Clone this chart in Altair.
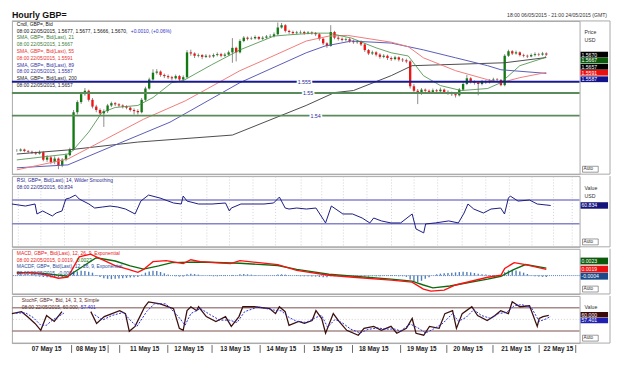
import altair as alt
import pandas as pd

FONT = "Liberation Sans"
W = 578
LF = 5.0  # legend font size

# ---------------- time axis (hour index of the hourly bars) ----------------
tick_h = [3, 15, 27, 40, 52, 64, 75, 88, 101, 113, 125, 137, 150, 161, 172, 184, 197, 209, 221, 234, 246, 258, 270, 281, 291]
tick_lab = ["22:00", "10:00", "22:00", "10:00", "20:00", "08:00", "20:00", "10:00", "22:00", "10:00", "22:00", "10:00",
            "22:00", "10:00", "20:00", "08:00", "20:00", "10:00", "22:00", "10:00", "22:00", "10:00", "22:00", "10:00", "20:00"]
date_h = [18, 41, 69, 92, 116, 140, 164, 188, 213, 237, 262, 284]
date_lab = ["07 May 15", "08 May 15", "11 May 15", "12 May 15", "13 May 15", "14 May 15", "15 May 15",
            "18 May 15", "19 May 15", "20 May 15", "21 May 15", "22 May 15"]
sep_h = [31, 50, 56, 81, 104, 129, 152, 177, 202, 226, 250, 274, 293]

# ---------------- candles (2-hour bars) ----------------
bar_h = list(range(0, 282, 2))
closes = [1.5245, 1.5250, 1.5243, 1.5240, 1.5236, 1.5232, 1.5238, 1.5205, 1.5215, 1.5195,
          1.5210, 1.5180, 1.5205, 1.5225, 1.5250, 1.5415, 1.5460, 1.5495, 1.5510, 1.5470,
          1.5440, 1.5425, 1.5410, 1.5420, 1.5445, 1.5455, 1.5450, 1.5445, 1.5440, 1.5435,
          1.5425, 1.5420, 1.5415, 1.5470, 1.5520, 1.5560, 1.5590, 1.5595, 1.5580, 1.5575,
          1.5570, 1.5565, 1.5575, 1.5560, 1.5570, 1.5680, 1.5675, 1.5665, 1.5668, 1.5660,
          1.5665, 1.5662, 1.5668, 1.5672, 1.5665, 1.5670, 1.5680, 1.5700, 1.5680, 1.5730,
          1.5745, 1.5740, 1.5742, 1.5748, 1.5740, 1.5745, 1.5750, 1.5752, 1.5760, 1.5790,
          1.5800, 1.5775, 1.5770, 1.5765, 1.5768, 1.5770, 1.5765, 1.5768, 1.5765, 1.5760,
          1.5740, 1.5720, 1.5708, 1.5770, 1.5745, 1.5740, 1.5735, 1.5738, 1.5730, 1.5725,
          1.5728, 1.5715, 1.5690, 1.5675, 1.5680, 1.5670, 1.5660, 1.5665, 1.5655, 1.5650,
          1.5658, 1.5648, 1.5645, 1.5640, 1.5530, 1.5510, 1.5500, 1.5515, 1.5510, 1.5505,
          1.5512, 1.5508, 1.5515, 1.5505, 1.5500, 1.5495, 1.5490, 1.5515, 1.5540, 1.5565,
          1.5550, 1.5545, 1.5540, 1.5550, 1.5548, 1.5555, 1.5560, 1.5558, 1.5535, 1.5665,
          1.5685, 1.5675, 1.5680, 1.5668, 1.5665, 1.5662, 1.5668, 1.5672, 1.5670, 1.5675,
          1.5670]
highs = [1.5252, 1.5255, 1.5254, 1.5248, 1.5245, 1.5241, 1.5246, 1.5242, 1.5225, 1.5222,
         1.5220, 1.5215, 1.5212, 1.5232, 1.5258, 1.5425, 1.5468, 1.5505, 1.5522, 1.5515,
         1.5478, 1.5448, 1.5432, 1.5428, 1.5452, 1.5462, 1.5460, 1.5455, 1.5450, 1.5446,
         1.5440, 1.5432, 1.5428, 1.5478, 1.5528, 1.5568, 1.5605, 1.5606, 1.5600, 1.5586,
         1.5582, 1.5576, 1.5582, 1.5580, 1.5578, 1.5690, 1.5692, 1.5680, 1.5675, 1.5672,
         1.5672, 1.5670, 1.5675, 1.5680, 1.5678, 1.5678, 1.5688, 1.5743, 1.5705, 1.5738,
         1.5752, 1.5750, 1.5750, 1.5755, 1.5752, 1.5752, 1.5757, 1.5760, 1.5768, 1.5812,
         1.5810, 1.5805, 1.5780, 1.5776, 1.5775, 1.5777, 1.5775, 1.5774, 1.5773, 1.5770,
         1.5765, 1.5745, 1.5725, 1.5800, 1.5775, 1.5752, 1.5746, 1.5745, 1.5744, 1.5736,
         1.5735, 1.5733, 1.5720, 1.5695, 1.5688, 1.5685, 1.5676, 1.5672, 1.5670, 1.5662,
         1.5665, 1.5662, 1.5655, 1.5652, 1.5645, 1.5540, 1.5518, 1.5522, 1.5520, 1.5516,
         1.5520, 1.5518, 1.5524, 1.5520, 1.5512, 1.5506, 1.5500, 1.5522, 1.5548, 1.5580,
         1.5570, 1.5556, 1.5552, 1.5558, 1.5557, 1.5562, 1.5568, 1.5566, 1.5562, 1.5672,
         1.5692, 1.5690, 1.5688, 1.5684, 1.5674, 1.5670, 1.5675, 1.5680, 1.5678, 1.5682,
         1.5680]
lows = [1.5240, 1.5241, 1.5238, 1.5235, 1.5230, 1.5226, 1.5228, 1.5198, 1.5195, 1.5185,
        1.5185, 1.5163, 1.5172, 1.5198, 1.5220, 1.5245, 1.5405, 1.5452, 1.5488, 1.5462,
        1.5432, 1.5415, 1.5400, 1.5350, 1.5412, 1.5438, 1.5442, 1.5438, 1.5432, 1.5428,
        1.5418, 1.5405, 1.5405, 1.5410, 1.5465, 1.5515, 1.5555, 1.5582, 1.5572, 1.5566,
        1.5562, 1.5556, 1.5560, 1.5550, 1.5555, 1.5565, 1.5665, 1.5655, 1.5658, 1.5650,
        1.5655, 1.5655, 1.5656, 1.5662, 1.5658, 1.5660, 1.5665, 1.5634, 1.5640, 1.5675,
        1.5725, 1.5733, 1.5735, 1.5737, 1.5734, 1.5735, 1.5740, 1.5745, 1.5746, 1.5755,
        1.5785, 1.5768, 1.5762, 1.5758, 1.5760, 1.5762, 1.5758, 1.5760, 1.5758, 1.5752,
        1.5732, 1.5712, 1.5700, 1.5705, 1.5738, 1.5732, 1.5728, 1.5728, 1.5722, 1.5718,
        1.5718, 1.5708, 1.5682, 1.5668, 1.5668, 1.5662, 1.5652, 1.5654, 1.5646, 1.5642,
        1.5645, 1.5640, 1.5637, 1.5632, 1.5520, 1.5500, 1.5451, 1.5492, 1.5502, 1.5497,
        1.5500, 1.5500, 1.5502, 1.5497, 1.5492, 1.5487, 1.5480, 1.5485, 1.5510, 1.5535,
        1.5542, 1.5537, 1.5490, 1.5534, 1.5540, 1.5542, 1.5550, 1.5550, 1.5530, 1.5530,
        1.5660, 1.5668, 1.5670, 1.5662, 1.5658, 1.5655, 1.5658, 1.5662, 1.5663, 1.5665,
        1.5666]

# ---------------- moving averages ----------------
sma21_h = [0, 27, 29, 38, 45, 52, 64, 72, 82, 88, 103, 118, 136, 143, 157, 165, 177, 190, 198, 207, 215, 224, 235, 249, 256, 266, 279, 280]
sma21_v = [1.5204, 1.5230, 1.5240, 1.5327, 1.5414, 1.5436, 1.5445, 1.5480, 1.5546, 1.5555, 1.5625, 1.5691, 1.5752, 1.5757,
           1.5765, 1.5765, 1.5743, 1.5700, 1.5678, 1.5664, 1.5577, 1.5533, 1.5511, 1.5520, 1.5546, 1.5621, 1.5656, 1.5667]
sma55_h = [0, 27, 47, 67, 89, 101, 118, 131, 153, 165, 175, 198, 207, 215, 232, 249, 256, 266, 280]
sma55_v = [1.5160, 1.5208, 1.5296, 1.5384, 1.5465, 1.5520, 1.5599, 1.5647, 1.5730, 1.5752, 1.5755, 1.5725, 1.5705, 1.5656,
           1.5599, 1.5559, 1.5546, 1.5568, 1.5591]
sma89_h = [0, 27, 52, 81, 118, 153, 163, 177, 198, 215, 232, 249, 256, 280]
sma89_v = [1.5169, 1.5182, 1.5270, 1.5371, 1.5546, 1.5678, 1.5708, 1.5730, 1.5721, 1.5691, 1.5656, 1.5621, 1.5603, 1.5587]
sma200_h = [0, 27, 64, 114, 153, 168, 178, 198, 209, 258, 280]
sma200_v = [1.5230, 1.5248, 1.5283, 1.5314, 1.5445, 1.5502, 1.5511, 1.5577, 1.5621, 1.5634, 1.5657]

price_ticks = [1.52, 1.525, 1.53, 1.535, 1.54, 1.545, 1.55, 1.555, 1.56, 1.565, 1.57]
levels = [1.555, 1.55, 1.54]
level_col = ["#1a1a90", "#5b8a5b", "#5b8a5b"]
level_lab = ["1.555", "1.55", "1.54"]
level_lab_h = [152, 154, 158]

price_box_lab = ["1.5670", "1.5667", "1.5657", "1.5591", "1.5587"]
price_box_pos = [1.5670, 1.5644, 1.5616, 1.5590, 1.5561]
price_box_col = ["#000000", "#0b5a0b", "#000000", "#e81010", "#12128a"]

# ---------------- RSI ----------------
rsi_h = [0, 7, 12, 13, 16, 18, 21, 23, 26, 28, 30, 33, 35, 40, 43, 47, 51, 55, 59, 64, 67, 71, 77, 84, 88, 89, 91, 97, 104, 111,
         113, 114, 119, 131, 136, 139, 142, 144, 148, 153, 158, 163, 166, 172, 177, 182, 186, 188, 192, 197, 202, 208, 210, 214,
         215, 220, 227, 232, 235, 237, 240, 245, 249, 254, 256, 258, 259, 263, 269, 273, 280]
rsi_v = [63.3, 59.9, 63.3, 46.4, 51.5, 48.1, 43.0, 48.1, 51.5, 71.7, 73.4, 78.5, 71.7, 63.3, 56.5, 58.2, 59.9, 58.2, 54.8, 46.4,
         68.3, 78.5, 73.4, 65.0, 63.3, 76.8, 68.3, 63.3, 63.3, 65.0, 51.5, 56.5, 63.3, 63.3, 65.0, 75.1, 56.5, 54.8, 56.5, 54.8,
         56.5, 31.2, 59.9, 46.4, 46.4, 39.6, 31.2, 39.6, 34.6, 31.2, 31.2, 46.4, 21.0, 14.3, 29.5, 31.2, 34.6, 31.2, 48.1, 63.3,
         54.8, 48.1, 54.8, 56.5, 46.4, 73.4, 76.8, 68.3, 70.0, 63.3, 60.8]
rsi_levels = [70, 30]

# ---------------- MACD ----------------
macd_h = [0, 7, 14, 22, 27, 29, 33, 39, 44, 52, 59, 64, 67, 72, 79, 88, 92, 97, 113, 118, 128, 138, 148, 165, 178, 198, 209,
          215, 219, 226, 232, 249, 256, 258, 263, 269, 280]
macd_v = [0.0007, 0.0010, 0.0004, -0.0008, -0.0005, 0.0016, 0.0058, 0.0066, 0.0052, 0.0031, 0.0019, 0.0010, 0.0019, 0.0043,
          0.0046, 0.0037, 0.0049, 0.0043, 0.0037, 0.0046, 0.0040, 0.0034, 0.0016, 0.0001, -0.0005, -0.0014, -0.0020, -0.0042,
          -0.0048, -0.0045, -0.0029, -0.0005, 0.0001, 0.0022, 0.0040, 0.0034, 0.0019]
sig_h = [0, 14, 27, 34, 42, 52, 60, 67, 75, 82, 97, 118, 138, 148, 165, 198, 209, 215, 220, 229, 249, 256, 263, 269, 280]
sig_v = [0.0010, 0.0007, -0.0002, 0.0025, 0.0055, 0.0045, 0.0030, 0.0020, 0.0030, 0.0040, 0.0042, 0.0038, 0.0031, 0.0019,
         0.0004, -0.0011, -0.0017, -0.0029, -0.0038, -0.0032, -0.0011, -0.0002, 0.0019, 0.0034, 0.0023]
hist_v = [0.0001, 0.0002, 0.0001, 0.0000, -0.0001, -0.0002, -0.0003,
          -0.0004, -0.0005, -0.0006, -0.0006, -0.0005, -0.0004, -0.0003, 0.0000,
          0.0008, 0.0013, 0.0015, 0.0014, 0.0012, 0.0009,
          0.0002, -0.0004, -0.0008, -0.0010, -0.0011, -0.0010, -0.0009, -0.0008, -0.0007, -0.0006, -0.0005, -0.0004,
          0.0003, 0.0009, 0.0013, 0.0015, 0.0014, 0.0011, 0.0007,
          0.0003, 0.0000, -0.0002, -0.0003, -0.0003,
          0.0004, 0.0006, 0.0005, 0.0003, 0.0001, 0.0000,
          -0.0001, -0.0002, -0.0002, -0.0001, -0.0001, 0.0000,
          0.0002, 0.0001, 0.0004, 0.0005, 0.0004, 0.0003,
          0.0002, 0.0001, 0.0000, -0.0001, 0.0000, 0.0001,
          0.0003, 0.0004, 0.0003, 0.0001, 0.0000, -0.0001, -0.0002,
          -0.0002, -0.0002, -0.0003, -0.0003, -0.0004, -0.0005, -0.0005,
          -0.0002, -0.0002, -0.0002, -0.0002, -0.0001, -0.0001, -0.0001,
          -0.0001, -0.0002, -0.0003, -0.0003, -0.0002, -0.0002, -0.0002,
          -0.0001, -0.0001, -0.0001, -0.0001, -0.0002, -0.0002,
          -0.0004, -0.0012, -0.0018, -0.0020, -0.0016, -0.0010,
          -0.0005, 0.0000, 0.0004, 0.0006, 0.0007, 0.0008, 0.0009,
          0.0010, 0.0011, 0.0012, 0.0011, 0.0010, 0.0008, 0.0006,
          0.0004, 0.0003, 0.0002, 0.0002, 0.0001, 0.0000,
          0.0010, 0.0016, 0.0018, 0.0016, 0.0013, 0.0009, 0.0005,
          0.0001, -0.0002, -0.0003, -0.0004, -0.0004]
macd_box_lab = ["0.0023", "0.0019", "-0.0004"]
macd_box_pos = [0.0045, 0.0020, -0.0002]
macd_box_col = ["#0b5a0b", "#e81010", "#1a4a8a"]

# ---------------- Stochastic ----------------
stk_h = [0, 5, 8, 12, 15, 18, 22, 26,
         41, 44, 48, 56, 59, 61, 64, 69, 71, 77, 84, 87, 89, 91, 93, 96, 97, 101, 106, 111, 114, 118, 120, 126, 134, 137,
         139, 142, 144, 149, 152, 156, 158, 161, 163, 167, 170, 174, 180, 183, 188, 192, 197, 200, 205, 208, 210, 214, 217,
         222, 225, 229, 231, 234, 239, 242, 247, 251, 254, 258, 260, 264, 269, 273, 274, 276, 279]
stk_v = [64.8, 69.9, 57.2, 39.5, 21.8, 59.7, 44.6, 69.9,
         69.9, 39.5, 57.2, 72.4, 64.8, 19.2, 31.9, 82.5, 95.2, 90.1, 77.5, 26.8, 21.8, 72.4, 82.5, 72.4, 82.5, 57.2, 44.6,
         57.2, 31.9, 57.2, 82.5, 82.5, 77.5, 64.8, 82.5, 69.9, 34.4, 44.6, 39.5, 47.1, 72.4, 52.2, 14.2, 64.8, 44.6, 21.8,
         9.1, 26.8, 31.9, 21.8, 31.9, 14.2, 26.8, 52.2, 14.2, 9.1, 31.9, 26.8, 64.8, 72.4, 26.8, 64.8, 82.5, 59.7, 47.1, 59.7,
         72.4, 64.8, 95.2, 82.5, 85.1, 31.9, 52.2, 57.2, 60.0]
stk_seg = [0] * 8 + [1] * 67
std_h = [2, 7, 11, 15, 18, 21, 25, 27,
         43, 47, 52, 58, 62, 65, 70, 74, 80, 86, 90, 93, 98, 103, 108, 113, 117, 121, 128, 136, 140, 144, 148, 153, 158,
         161, 164, 168, 172, 176, 181, 185, 190, 194, 199, 202, 207, 211, 215, 219, 224, 229, 232, 236, 240, 244, 249, 253,
         257, 261, 265, 270, 274, 277, 280]
std_v = [66, 67, 55, 35, 35, 48, 60, 66,
         62, 48, 60, 68, 45, 32, 70, 90, 90, 60, 35, 65, 78, 62, 48, 48, 42, 70, 82, 74, 72, 55, 45, 42, 55, 60, 30, 50, 40,
         25, 15, 24, 28, 25, 25, 20, 38, 28, 15, 25, 40, 65, 45, 55, 75, 60, 52, 65, 68, 85, 88, 80, 45, 50, 57.4]
std_seg = [0] * 8 + [1] * 55
stoch_levels = [80, 20]
stoch_grid = [50]
stoch_box_lab = ["60.000", "57.401"]
stoch_box_pos = [62, 47]
stoch_box_col = ["#3a0a0a", "#2020b0"]

# ================= building the chart =================
XS = alt.Scale(domain=[0, 295], nice=False, zero=False)
LABEL_EXPR = ("[" + ",".join("'%s'" % s for s in tick_lab) + "][indexof([" +
              ",".join(str(v) for v in tick_h) + "], datum.value)]")
FRAME = "#a8a8a8"


def xaxis(show):
    return alt.Axis(values=tick_h, grid=True, gridColor="#bcbcbc", gridDash=[1, 2], gridWidth=0.7,
                    ticks=False, domain=False, title=None, labels=show, labelExpr=LABEL_EXPR,
                    labelFontSize=5.6, labelColor="#222", labelPadding=2, labelFont=FONT)


def X(show=None):
    return alt.X("h:Q", scale=XS, axis=(xaxis(show) if show is not None else None))


def label(txt, x, y, color, size=LF, align="left", weight="normal", baseline="middle"):
    return alt.Chart(pd.DataFrame({"t": [txt]})).mark_text(
        align=align, baseline=baseline, fontSize=size, font=FONT, color=color, fontWeight=weight
    ).encode(x=alt.value(x), y=alt.value(y), text="t:N")


def line(hs, vs, ys, color, width=1.0, dash=None, seg=None):
    df = pd.DataFrame({"h": hs, "v": vs})
    kw = dict(color=color, strokeWidth=width)
    if dash:
        kw["strokeDash"] = dash
    enc = dict(x=X(), y=alt.Y("v:Q", scale=ys, axis=None))
    if seg is not None:
        df["s"] = seg
        enc["detail"] = "s:N"
    return alt.Chart(df).mark_line(**kw).encode(**enc)


def hgrid(vals, ys):
    return alt.Chart(pd.DataFrame({"v": vals})).mark_rule(color="#bcbcbc", strokeWidth=0.7, strokeDash=[1, 2]).encode(
        y=alt.Y("v:Q", scale=ys, axis=None))


def boxes(labs, pos, cols, ys, half):
    df = pd.DataFrame({"t": labs, "p": pos, "c": cols})
    df["lo"] = df["p"] - half
    df["hi"] = df["p"] + half
    r = alt.Chart(df).mark_rect().encode(
        x=alt.value(W + 1), x2=alt.value(W + 29),
        y=alt.Y("lo:Q", scale=ys, axis=None), y2="hi:Q",
        color=alt.Color("c:N", scale=None))
    t = alt.Chart(df).mark_text(align="left", baseline="middle", fontSize=5.2, font=FONT, color="white").encode(
        x=alt.value(W + 2), y=alt.Y("p:Q", scale=ys, axis=None), text="t:N")
    return [r, t]


def auto_box(h):
    b = alt.Chart(pd.DataFrame({"a": [0]})).mark_rect(fill="white", stroke="#555", strokeWidth=0.6).encode(
        x=alt.value(W + 3), x2=alt.value(W + 19), y=alt.value(h - 8), y2=alt.value(h - 2))
    return [b, label("Auto", W + 4, h - 5, "#333", size=4.8)]


def sep_rule(h):
    return alt.Chart(pd.DataFrame({"a": [0]})).mark_rule(color=FRAME, strokeWidth=1).encode(
        x=alt.value(0), x2=alt.value(W + 31), y=alt.value(h))


def right_frame(h):
    return alt.Chart(pd.DataFrame({"a": [0]})).mark_rule(color=FRAME, strokeWidth=1).encode(
        x=alt.value(W + 31), y=alt.value(0), y2=alt.value(h))


# ---------- header ----------
header = alt.layer(
    label("Hourly GBP=", 0, 0, "#111", size=9, weight="bold", baseline="top"),
    label("18:00 06/05/2015 - 21:00 24/05/2015 (GMT)", W + 28, 2, "#333", size=5.2, align="right", baseline="top"),
).properties(width=W, height=9, view=alt.ViewBackground(strokeOpacity=0))

# ---------- price panel ----------
PH = 156
PY = alt.Scale(domain=[1.5141, 1.5819], nice=False, zero=False)
price_axis = alt.Axis(orient="right", values=price_ticks, grid=True, gridColor="#bcbcbc", gridDash=[1, 2],
                      gridWidth=0.7, tickSize=3, tickColor="#666", domain=False, title=None,
                      labelExpr="(datum.value > 1.552 && datum.value < 1.567) ? '' : format(datum.value, '.3~f')",
                      labelFontSize={"condition": {"test": "datum.value == 1.55", "value": 6.5}, "value": 5.6},
                      labelFontWeight={"condition": {"test": "datum.value == 1.55", "value": "bold"}, "value": "normal"},
                      labelColor="#222", labelFont=FONT, labelPadding=2)

cdf = pd.DataFrame({"h": bar_h, "c": closes, "hi": highs, "lo": lows})
cdf["o"] = [closes[0]] + closes[:-1]

wicks = alt.Chart(cdf).mark_rule(color="#6e6e6e", strokeWidth=0.8).encode(
    x=X(False), y=alt.Y("lo:Q", scale=PY, axis=price_axis), y2="hi:Q")
bodies = alt.Chart(cdf).mark_bar(size=2.4).encode(
    x=X(), y=alt.Y("o:Q", scale=PY, axis=None), y2="c:Q",
    color=alt.when(alt.datum.c >= alt.datum.o).then(alt.value("#137a13")).otherwise(alt.value("#ee1414")))

ldf = pd.DataFrame({"v": levels, "col": level_col})
level_rules = alt.Chart(ldf).mark_rule(strokeWidth=2).encode(
    y=alt.Y("v:Q", scale=PY, axis=None), color=alt.Color("col:N", scale=None))
lldf = pd.DataFrame({"h": level_lab_h, "v": levels, "t": level_lab})
lvl_halo = alt.Chart(lldf).mark_text(fontSize=5.4, font=FONT, color="white", stroke="white", strokeWidth=3).encode(
    x=X(), y=alt.Y("v:Q", scale=PY, axis=None), text="t:N")
lvl_text = alt.Chart(lldf).mark_text(fontSize=5.4, font=FONT, color="#2a2aa0").encode(
    x=X(), y=alt.Y("v:Q", scale=PY, axis=None), text="t:N")

legend_lines = [
    ("Cndl, GBP=, Bid", "#111"),
    ("08:00 22/05/2015, 1.5677, 1.5677, 1.5666, 1.5670,", "#111"),
    ("SMA, GBP=, Bid(Last),  21", "#3a7a3a"),
    ("08:00 22/05/2015, 1.5667", "#3a7a3a"),
    ("SMA, GBP=, Bid(Last),  55", "#e83030"),
    ("08:00 22/05/2015, 1.5591", "#e83030"),
    ("SMA, GBP=, Bid(Last),  89", "#3535a5"),
    ("08:00 22/05/2015, 1.5587", "#3535a5"),
    ("SMA, GBP=, Bid(Last),  200", "#222"),
    ("08:00 22/05/2015, 1.5657", "#222"),
]
price_legend = [label(t, 5, 3 + 6.9 * i, c) for i, (t, c) in enumerate(legend_lines)]
price_legend.append(label("+0.0010, (+0.06%)", 121, 3 + 6.9, "#3333cc"))

price = alt.layer(
    wicks, bodies,
    line(sma200_h, sma200_v, PY, "#4a4a4a", 1.0),
    line(sma89_h, sma89_v, PY, "#5a5ab8", 1.0),
    line(sma55_h, sma55_v, PY, "#f07a7a", 1.0),
    line(sma21_h, sma21_v, PY, "#3f8a3f", 0.8),
    level_rules, lvl_halo, lvl_text,
    *price_legend,
    *boxes(price_box_lab, price_box_pos, price_box_col, PY, 0.00128),
    label("Price", W + 5, 11, "#333", size=5.3),
    label("USD", W + 5, 19, "#333", size=5.3),
    *auto_box(PH),
    sep_rule(0), sep_rule(PH), right_frame(PH),
).properties(width=W, height=PH)

# ---------- RSI panel ----------
RH = 72
RY = alt.Scale(domain=[-9.3, 110.6], nice=False, zero=False)
rsi_axis = alt.Axis(orient="right", values=[30], grid=False, tickSize=3, tickColor="#666", domain=False, title=None,
                    labelFontSize=5.6, labelColor="#222", labelFont=FONT, labelPadding=2)
rdf = pd.DataFrame({"h": rsi_h, "v": rsi_v})
rsi_lvl = alt.Chart(pd.DataFrame({"v": rsi_levels})).mark_rule(color="#8585cc", strokeWidth=1.5).encode(
    y=alt.Y("v:Q", scale=RY, axis=rsi_axis))
rsi_line = alt.Chart(rdf).mark_line(color="#1a1a80", strokeWidth=1).encode(
    x=X(False), y=alt.Y("v:Q", scale=RY, axis=None))
rsi = alt.layer(
    rsi_lvl, rsi_line,
    label("RSI, GBP=, Bid(Last),  14, Wilder Smoothing", 5, 4, "#2a2a90"),
    label("08:00 22/05/2015, 60.834", 5, 11, "#2a2a90"),
    *boxes(["60.834"], [60.834], ["#14147a"], RY, 5.5),
    label("Value", W + 5, 12, "#333", size=5.3),
    label("USD", W + 5, 20, "#333", size=5.3),
    *auto_box(RH),
    sep_rule(RH), right_frame(RH),
).properties(width=W, height=RH)

# ---------- MACD panel ----------
MH = 46
MY = alt.Scale(domain=[-0.00567, 0.00827], nice=False, zero=False)
hdf = pd.DataFrame({"h": bar_h, "v": hist_v})
zero_rule = alt.Chart(pd.DataFrame({"v": [0.0]})).mark_rule(color="#5a80b8", strokeWidth=1, strokeDash=[1, 1]).encode(
    y=alt.Y("v:Q", scale=MY, axis=None))
hist = alt.Chart(hdf).mark_bar(size=1.4, color="#4f7fb8").encode(
    x=X(False), y=alt.Y("v:Q", scale=MY, axis=None), y2=alt.datum(0))
macd = alt.layer(
    hist, zero_rule,
    line(sig_h, sig_v, MY, "#0f6a0f", 1.4),
    line(macd_h, macd_v, MY, "#ff1010", 1.4),
    label("MACD, GBP=, Bid(Last),  12, 26, 9, Exponential", 5, 4, "#e82020"),
    label("08:00 22/05/2015, 0.0019,", 5, 11, "#e82020"),
    label("0.0023", 66, 11, "#0f6a0f"),
    label("MACDF, GBP=, Bid(Last),  12, 26, 9, Exponential", 5, 18, "#2a4a9a"),
    label("08:00 22/05/2015, -0.0004", 5, 25, "#2a4a9a"),
    *boxes(macd_box_lab, macd_box_pos, macd_box_col, MY, 0.00105),
    *auto_box(MH),
    sep_rule(MH), right_frame(MH),
).properties(width=W, height=MH)

# ---------- Stochastic panel ----------
SH = 48
SY = alt.Scale(domain=[-11.1, 110.4], nice=False, zero=False)
st_lvl = alt.Chart(pd.DataFrame({"v": stoch_levels})).mark_rule(color="#a88a8a", strokeWidth=1.5).encode(
    y=alt.Y("v:Q", scale=SY, axis=None))
kdf = pd.DataFrame({"h": stk_h, "v": stk_v, "s": stk_seg})
k_line = alt.Chart(kdf).mark_line(color="#3c1010", strokeWidth=1.3).encode(
    x=X(True), y=alt.Y("v:Q", scale=SY, axis=None), detail="s:N")
stoch = alt.layer(
    hgrid(stoch_grid, SY), st_lvl, k_line,
    line(std_h, std_v, SY, "#2b2bd6", 1.0, dash=[2, 1.5], seg=std_seg),
    label("StochF, GBP=, Bid,  14, 3, 3, Simple", 10, 4.5, "#5a2a2a"),
    label("08:00 22/05/2015, 60.000,", 10, 11.5, "#5a2a2a"),
    label("57.401", 70, 11.5, "#2b2bd6"),
    *boxes(stoch_box_lab, stoch_box_pos, stoch_box_col, SY, 7),
    label("Value", W + 5, 11, "#333", size=5.3),
    *auto_box(SH),
    sep_rule(SH), right_frame(SH),
).properties(width=W, height=SH)

# ---------- date row ----------
ddf = pd.DataFrame({"h": date_h, "t": date_lab})
sdf = pd.DataFrame({"h": sep_h})
daterow = alt.layer(
    alt.Chart(ddf).mark_text(fontSize=6.4, fontWeight="bold", font=FONT, color="#222", baseline="middle").encode(
        x=X(), y=alt.value(4), text="t:N"),
    alt.Chart(sdf).mark_rule(color="#444", strokeWidth=0.8).encode(x=X(), y=alt.value(0), y2=alt.value(8)),
).properties(width=W, height=8, view=alt.ViewBackground(strokeOpacity=0))

chart = alt.vconcat(header, price, rsi, macd, stoch, daterow, spacing=0).properties(
    padding=0, background="white"
).configure_view(stroke=FRAME, strokeWidth=1)

chart.save("out.html", embed_options={"renderer": "svg", "actions": False})
